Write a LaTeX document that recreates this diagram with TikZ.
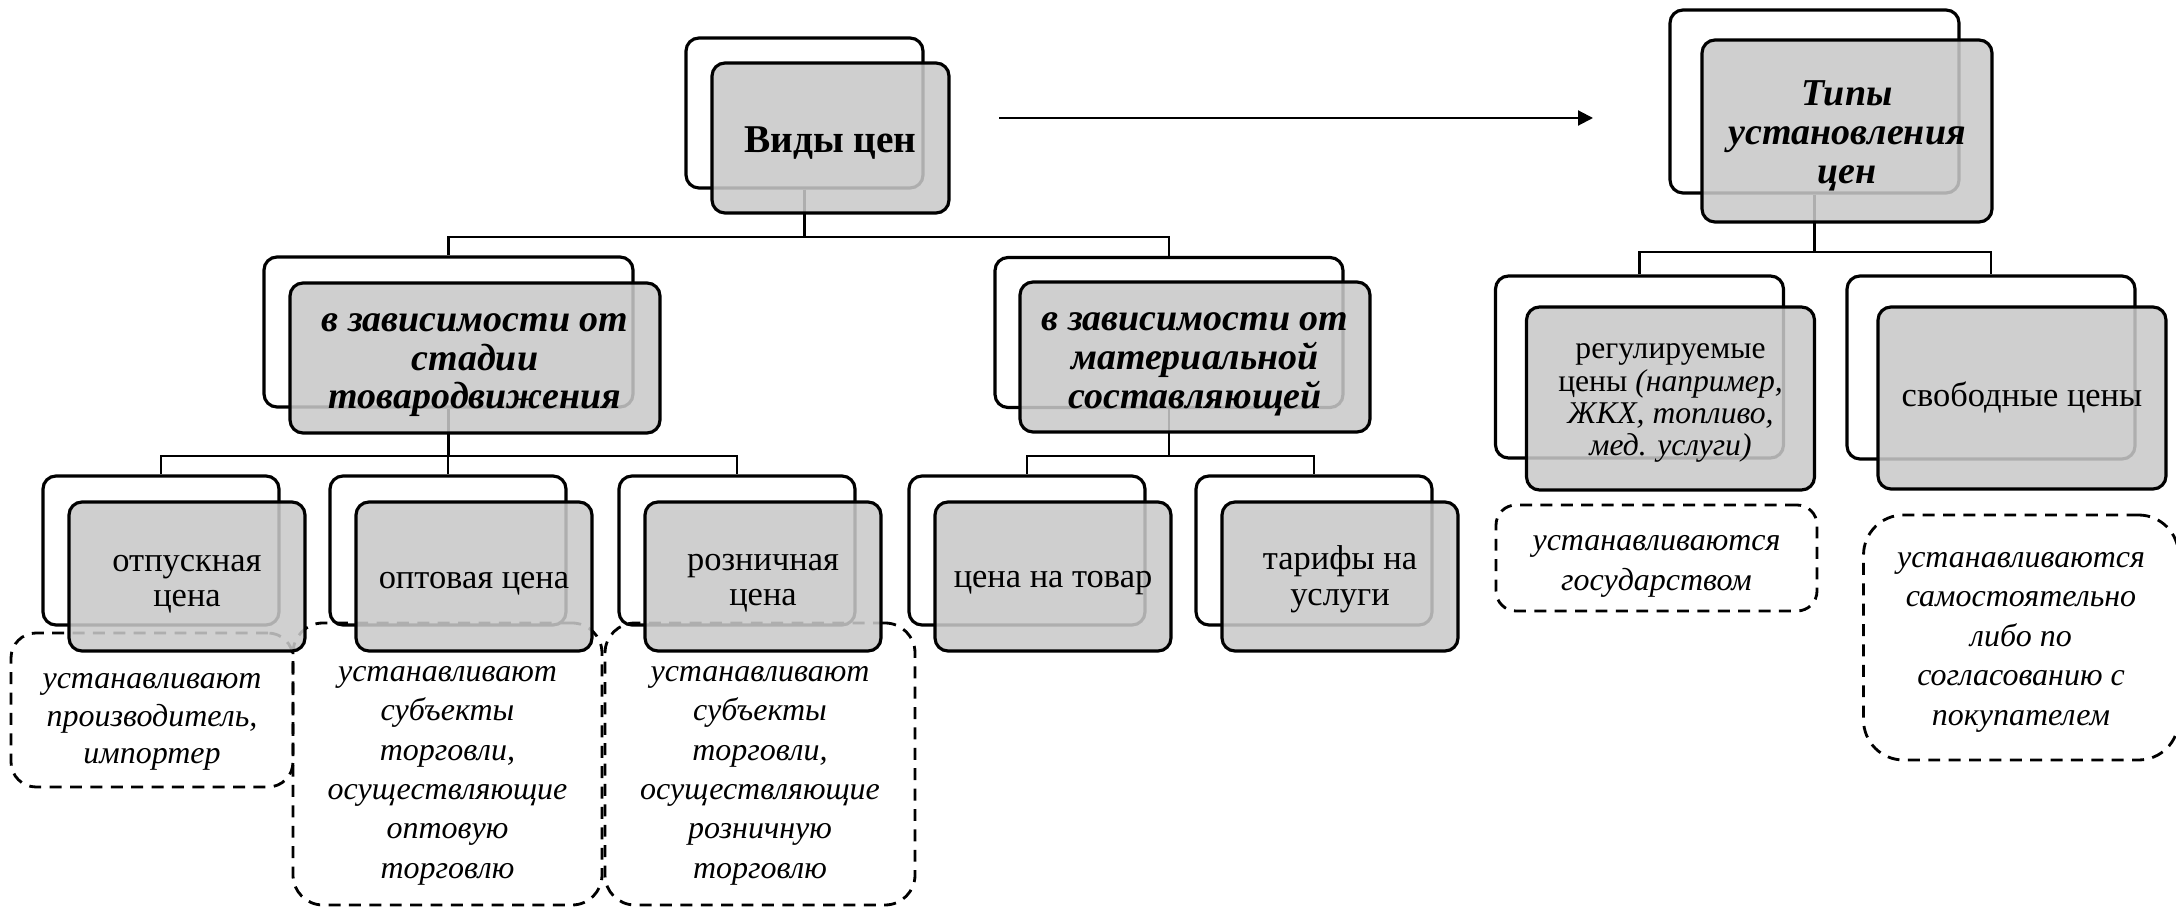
\documentclass[tikz,border=0pt]{standalone}
\usepackage{fontspec}
\setmainfont{Liberation Serif}
\usetikzlibrary{arrows.meta}
\definecolor{boxgray}{RGB}{201,201,201}

\begin{document}
\begin{tikzpicture}[
    back/.style={draw,line width=0.9pt,rounded corners=0.13cm,fill=white,inner sep=0pt},
    front/.style={draw,line width=0.9pt,rounded corners=0.13cm,fill=boxgray,fill opacity=0.87,text opacity=1,inner sep=0pt,align=center},
    note/.style={draw,line width=0.8pt,dash pattern=on 3.4pt off 2.4pt,inner sep=0pt,align=center,font=\fontsize{9.1}{11.2}\selectfont\itshape},
    link/.style={line width=0.6pt},
    head/.style={font=\fontsize{10.8}{11}\selectfont\bfseries\itshape},
    plain/.style={font=\fontsize{9.8}{10.2}\selectfont},
    drop/.style={execute at begin node={\rule{0pt}{#1}}}
]
    \useasboundingbox (0,0) rectangle (21.76,-9.07);

    % back boxes
    \node[back,minimum width=2.37cm,minimum height=1.50cm] (vidyb) at (8.045,-1.13) {};
    \node[back,minimum width=2.89cm,minimum height=1.83cm] (tipyb) at (18.145,-1.015) {};
    \node[back,minimum width=3.69cm,minimum height=1.50cm] (stadb) at (4.485,-3.32) {};
    \node[back,minimum width=3.48cm,minimum height=1.50cm] (matb) at (11.69,-3.325) {};
    \node[back,minimum width=2.36cm,minimum height=1.49cm] (otpb) at (1.61,-5.505) {};
    \node[back,minimum width=2.36cm,minimum height=1.49cm] (optb) at (4.48,-5.505) {};
    \node[back,minimum width=2.36cm,minimum height=1.49cm] (roznb) at (7.37,-5.505) {};
    \node[back,minimum width=2.36cm,minimum height=1.49cm] (tovb) at (10.27,-5.505) {};
    \node[back,minimum width=2.36cm,minimum height=1.49cm] (tarb) at (13.14,-5.505) {};
    \node[back,minimum width=2.88cm,minimum height=1.82cm] (regb) at (16.395,-3.67) {};
    \node[back,minimum width=2.88cm,minimum height=1.83cm] (svobb) at (19.91,-3.675) {};

    % links
    \draw[link] (vidyb.south) -- ++(0,-0.47) -| (stadb.north);
    \draw[link] (vidyb.south) -- ++(0,-0.47) -| (matb.north);
    \draw[link] (stadb.south) -- ++(0,-0.47) -| (otpb.north);
    \draw[link] (stadb.south) -- ++(0,-0.47) -| (optb.north);
    \draw[link] (stadb.south) -- ++(0,-0.47) -| (roznb.north);
    \draw[link] (matb.south) -- ++(0,-0.465) -| (tovb.north);
    \draw[link] (matb.south) -- ++(0,-0.465) -| (tarb.north);
    \draw[link] (tipyb.south) -- ++(0,-0.57) -| (regb.north);
    \draw[link] (tipyb.south) -- ++(0,-0.57) -| (svobb.north);
    \coordinate (arrfrom) at (9.99,-1.18);
    \coordinate (arrto) at (15.93,-1.18);
    \draw[link,-{Triangle[length=0.15cm,width=0.15cm]}] (arrfrom) -- (arrto);

    % notes
    \node[note,drop=32.6pt,font=\fontsize{9.1}{10.7}\selectfont\itshape,rounded corners=0.25cm,minimum width=2.82cm,minimum height=1.54cm] (otpnote) at (1.52,-7.10)
        {устанавливают\\производитель,\\импортер};
    \node[note,drop=66.9pt,rounded corners=0.3cm,minimum width=3.09cm,minimum height=2.82cm] (optnote) at (4.475,-7.64)
        {устанавливают\\субъекты\\торговли,\\осуществляющие\\оптовую\\торговлю};
    \node[note,drop=66.9pt,rounded corners=0.3cm,minimum width=3.10cm,minimum height=2.82cm] (roznnote) at (7.60,-7.64)
        {устанавливают\\субъекты\\торговли,\\осуществляющие\\розничную\\торговлю};
    \node[note,drop=20.2pt,rounded corners=0.2cm,minimum width=3.21cm,minimum height=1.06cm] (regnote) at (16.565,-5.58)
        {устанавливаются\\государством};
    \node[note,drop=51.8pt,rounded corners=0.4cm,minimum width=3.15cm,minimum height=2.45cm] (svobnote) at (20.21,-6.375)
        {устанавливаются\\самостоятельно\\либо по\\согласованию с\\покупателем};

    % front boxes
    \node[front,drop=10pt,minimum width=2.37cm,minimum height=1.50cm,font=\fontsize{11.2}{12}\selectfont\bfseries] (vidy) at (8.305,-1.38) {Виды цен};
    \node[front,head,drop=31.9pt,minimum width=2.90cm,minimum height=1.82cm] (tipy) at (18.47,-1.31) {Типы\\установления\\цен};
    \node[front,head,drop=31.3pt,minimum width=3.70cm,minimum height=1.50cm] (stad) at (4.75,-3.58) {в зависимости от\\стадии\\товародвижения};
    \node[front,head,drop=31.3pt,minimum width=3.50cm,minimum height=1.50cm] (mat) at (11.95,-3.57) {в зависимости от\\материальной\\составляющей};
    \node[front,plain,drop=19.2pt,minimum width=2.36cm,minimum height=1.49cm] (otp) at (1.87,-5.765) {отпускная\\цена};
    \node[front,plain,drop=8.6pt,minimum width=2.36cm,minimum height=1.49cm] (opt) at (4.74,-5.765) {оптовая цена};
    \node[front,plain,drop=18.6pt,minimum width=2.36cm,minimum height=1.49cm] (rozn) at (7.63,-5.765) {розничная\\цена};
    \node[front,plain,drop=8.6pt,minimum width=2.36cm,minimum height=1.49cm] (tov) at (10.53,-5.765) {цена на товар};
    \node[front,plain,drop=18.8pt,minimum width=2.36cm,minimum height=1.49cm] (tar) at (13.40,-5.765) {тарифы на\\услуги};
    \node[front,drop=34.5pt,font=\fontsize{9}{9.2}\selectfont,minimum width=2.88cm,minimum height=1.83cm] (reg) at (16.705,-3.985)
        {регулируемые\\цены \textit{(например,}\\\textit{ЖКХ, топливо,}\\\textit{мед. услуги)}};
    \node[front,plain,minimum width=2.88cm,minimum height=1.82cm] (svob) at (20.22,-3.98) {свободные цены};
\end{tikzpicture}
\end{document}
